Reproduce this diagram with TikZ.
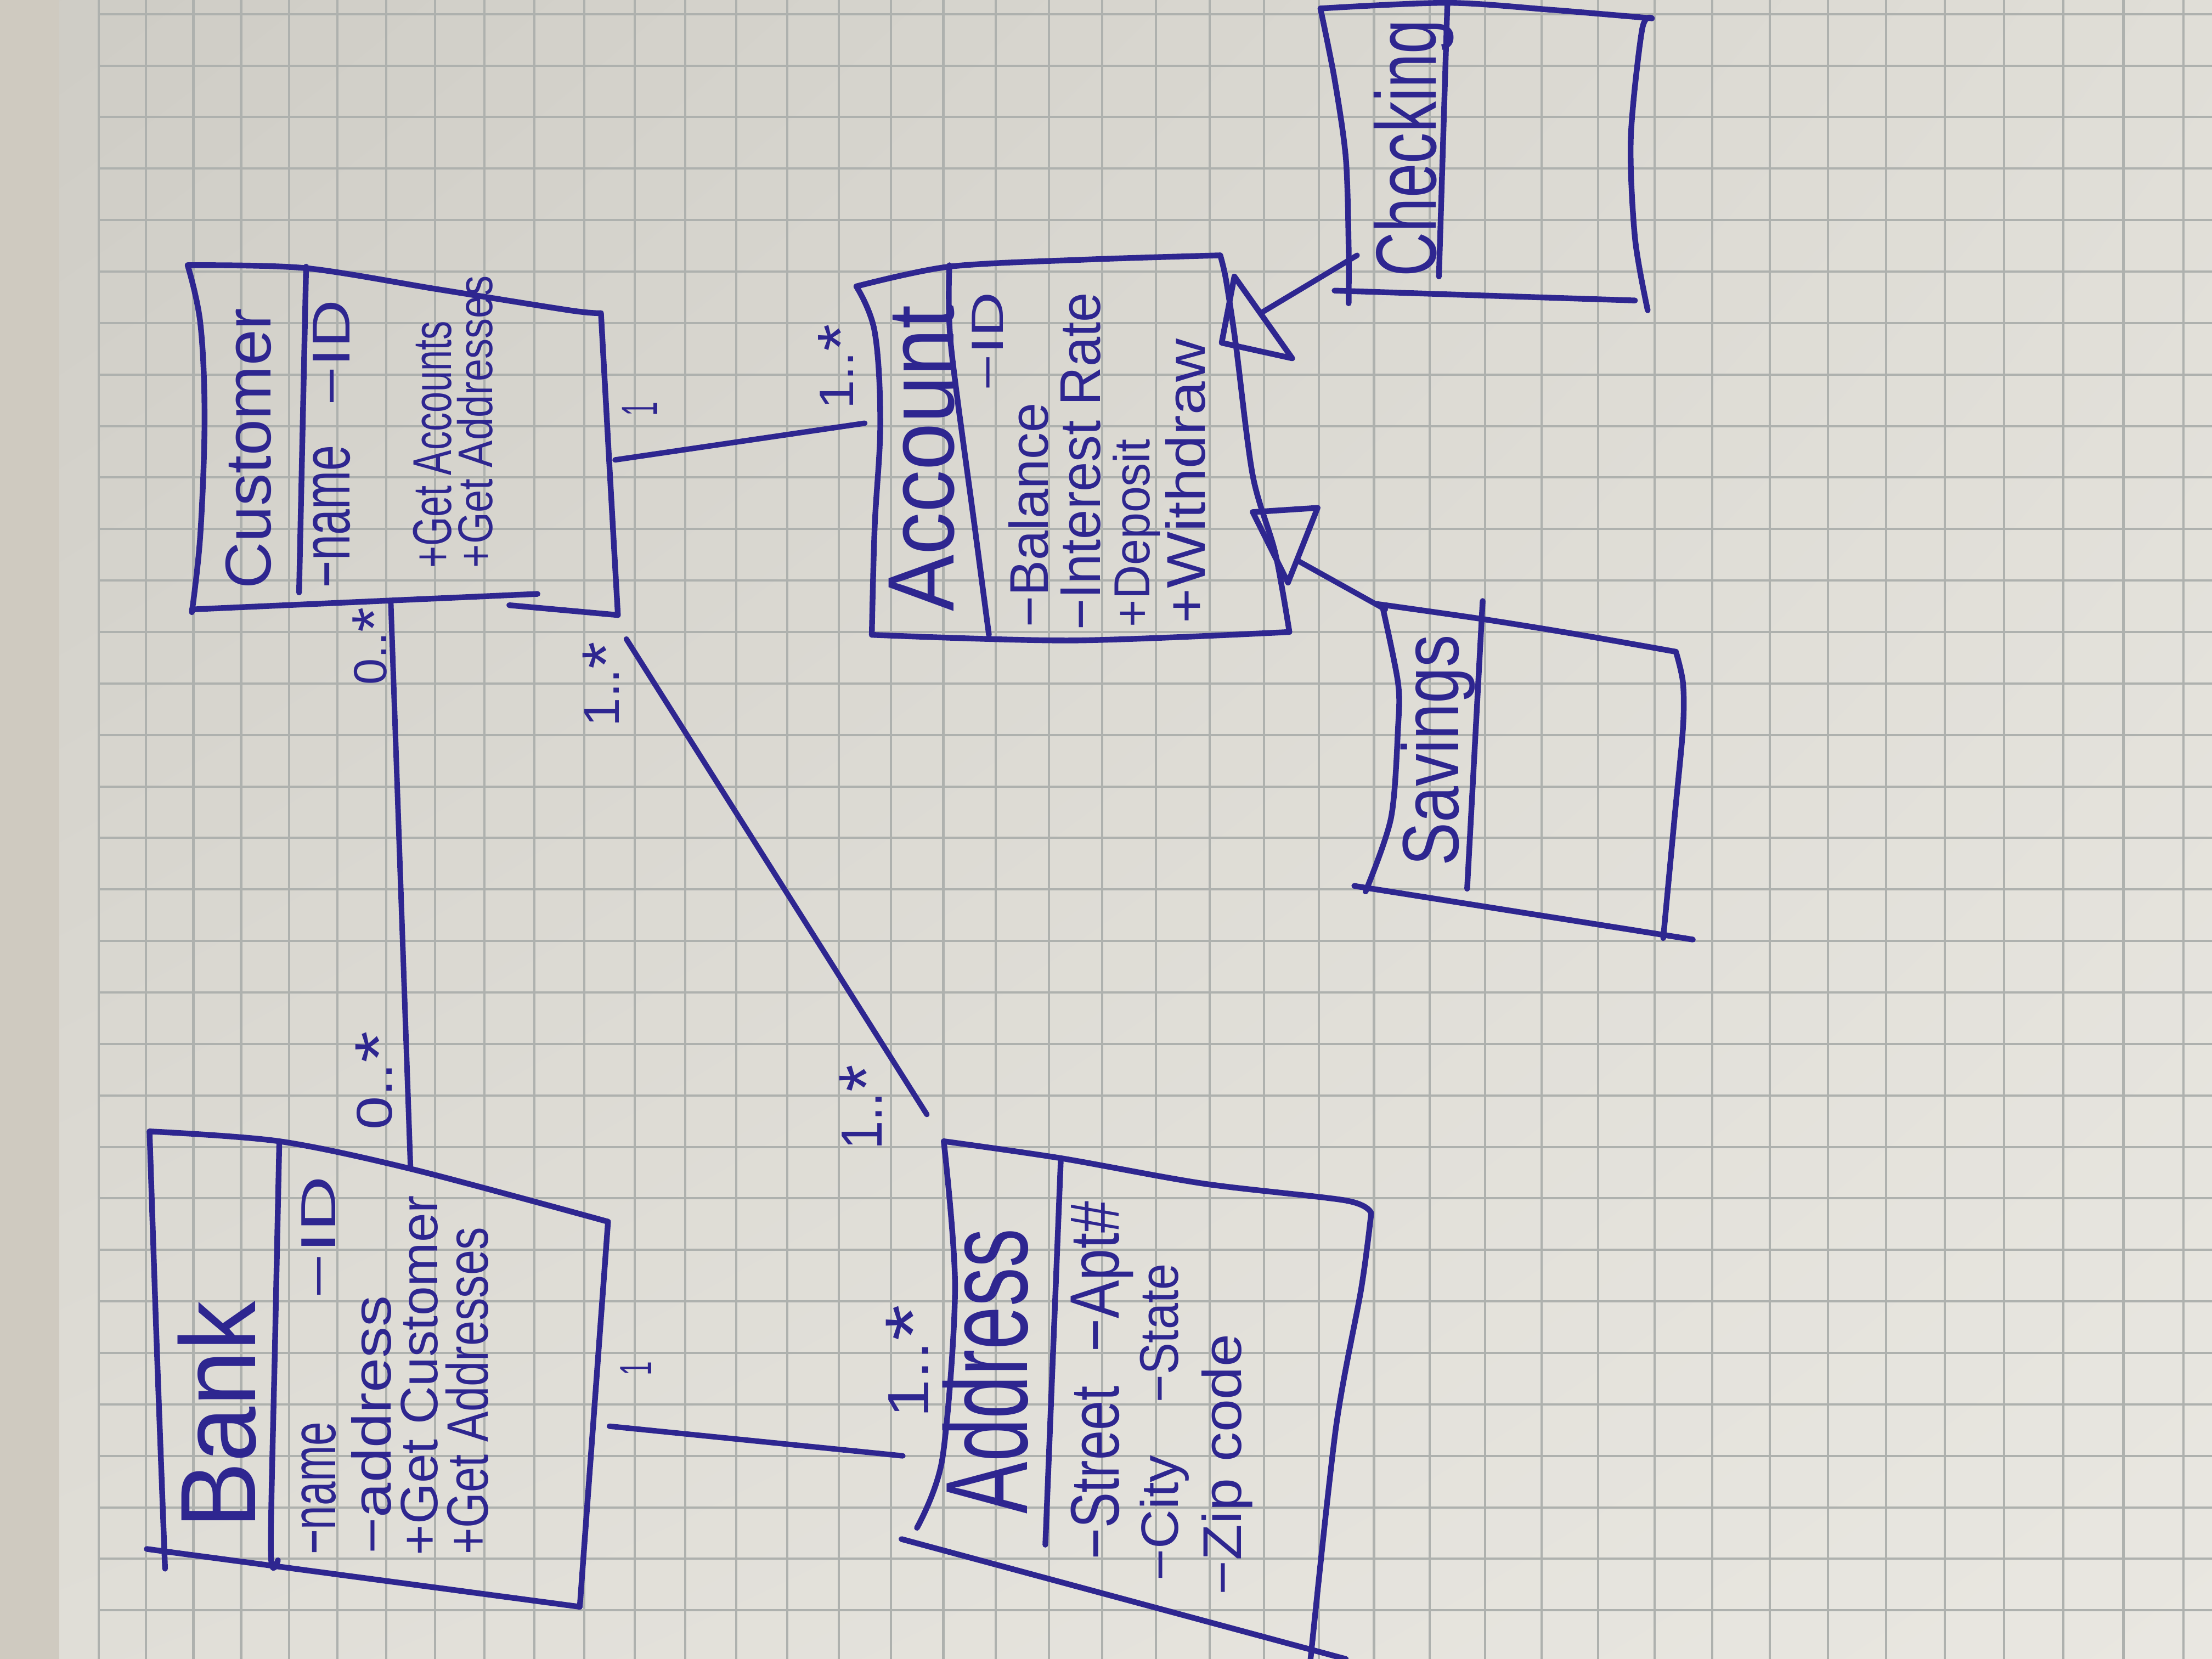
\documentclass[tikz,border=0pt]{standalone}
\usepackage{fontspec}
\setmainfont{Liberation Sans}
\usetikzlibrary{calc,shadings}
\definecolor{ink}{RGB}{46,38,144}
\definecolor{paper}{RGB}{224,222,215}
\definecolor{paperdark}{RGB}{206,204,197}
\definecolor{paperlight}{RGB}{233,231,225}
\definecolor{edge}{RGB}{207,202,192}
\definecolor{gridline}{RGB}{174,177,174}
% text squeezed into a given width and height (cm)
\newcommand{\hw}[3]{\resizebox{#1cm}{#2cm}{#3}}
% a large, centred asterisk for multiplicities
\newcommand{\many}{\raisebox{-0.2em}{\scalebox{1.35}{*}}}
\tikzset{
  pen/.style={draw=ink, line width=1.15pt, line cap=round, line join=round},
  wire/.style={draw=ink, line width=1.1pt, line cap=round},
  txt/.style={rotate=90, anchor=base, inner sep=0pt, outer sep=0pt, text=ink},
  ruling/.style={draw=gridline, line width=0.45pt},
}
\begin{document}
\begin{tikzpicture}[x=0.01cm, y=-0.01cm]
\useasboundingbox (0,0) rectangle (1568,1176);

% squared paper
\begin{scope}
\clip (0,0) rectangle (1568,1176);
\shade[upper left=paperdark, upper right=paper, lower left=paper, lower right=paperlight] (0,0) rectangle (1568,1176);
\fill[edge] (0,0) rectangle (42,1176);
\foreach \k in {0,...,40} {
  \pgfmathsetmacro\gx{5147*1.0065^\k-5077}
  \draw[ruling] (\gx,0) -- (\gx,1176);
}
\foreach \k in {0,...,32} {
  \pgfmathsetmacro\gy{10+36.5*\k}
  \draw[ruling] (70,\gy) -- (1568,\gy);
}
\end{scope}

% ---------- Customer ----------
\draw[pen] plot[smooth, tension=0.6] coordinates {(133,188) (142,229) (145,296) (142,379) (136,434)};
\draw[pen] plot[smooth, tension=0.5] coordinates {(133,188) (216,190) (310,205) (404,220) (426,222)};
\draw[pen] plot[smooth, tension=0.5] coordinates {(426,222) (432,330) (438,436)};
\draw[pen] (136,432) -- (381,421);
\draw[pen] (361,429) -- (438,436);
\draw[pen] (217,189) -- (212,420);
\node[txt] (cusName) at (192,318) {\hw{1.99}{0.32}{Customer}};
\node[txt] (cusA1) at (248,366) {\hw{1.01}{0.26}{−name}};
\node[txt] (cusA2) at (248,250) {\hw{0.75}{0.26}{−ID}};
\node[txt] (cusM1) at (320,315) {\hw{1.75}{0.27}{+Get Accounts}};
\node[txt] (cusM2) at (349,299) {\hw{2.07}{0.25}{+Get Addresses}};

% ---------- Account ----------
\draw[pen] plot[smooth, tension=0.6] coordinates {(607,203) (620,235) (624,300) (620,374) (618,450)};
\draw[pen] plot[smooth, tension=0.5] coordinates {(607,203) (673,189) (770,184) (865,181)};
\draw[pen] plot[smooth, tension=0.5] coordinates {(865,181) (869,198) (876,244) (888,337) (904,392) (914,448)};
\draw[pen] plot[smooth, tension=0.5] coordinates {(618,450) (760,454) (914,448)};
\draw[pen] plot[smooth, tension=0.5] coordinates {(673,188) (674,244) (691,374) (701,450)};
\node[txt] (accName) at (676,325) {\hw{2.17}{0.46}{Account}};
\node[txt] (accA1) at (711,242) {\hw{0.70}{0.22}{−ID}};
\node[txt] (accA2) at (743,365) {\hw{1.59}{0.28}{−Balance}};
\node[txt] (accA3) at (780,327) {\hw{2.39}{0.28}{−Interest Rate}};
\node[txt] (accM1) at (815,378) {\hw{1.33}{0.26}{+Deposit}};
\node[txt] (accM2) at (854,341) {\hw{2.02}{0.28}{+Withdraw}};

% ---------- Checking ----------
\draw[pen] plot[smooth, tension=0.5] coordinates {(936,6) (946,56) (954,112) (956,175) (956,215)};
\draw[pen] plot[smooth, tension=0.5] coordinates {(936,6) (1026,2) (1100,7) (1171,13)};
\draw[pen] plot[smooth, tension=0.5] coordinates {(1171,13) (1164,21) (1156,98) (1159,169) (1168,220)};
\draw[pen] (946,206) -- (1159,213);
\draw[pen] (1026,2) -- (1020,196);
\node[txt] (chkName) at (1018,105) {\hw{1.82}{0.44}{Checking}};

% ---------- Savings ----------
\draw[pen] plot[smooth, tension=0.5] coordinates {(980,430) (991,484) (991,516) (986,580) (968,632)};
\draw[pen] plot[smooth, tension=0.5] coordinates {(975,428) (1052,439) (1120,450) (1188,462)};
\draw[pen] plot[smooth, tension=0.5] coordinates {(1188,462) (1193,484) (1193,516) (1187,580) (1179,665)};
\draw[pen] (960,628) -- (1200,666);
\draw[pen] (1051,426) -- (1040,630);
\node[txt] (savName) at (1034,532) {\hw{1.64}{0.41}{Savings}};

% ---------- Bank ----------
\draw[pen] plot[smooth, tension=0.5] coordinates {(106,802) (111,951) (117,1112)};
\draw[pen] plot[smooth, tension=0.5] coordinates {(106,802) (198,809) (293,829) (431,866)};
\draw[pen] (431,866) -- (411,1139);
\draw[pen] (104,1098) -- (411,1139);
\draw[pen] plot[smooth, tension=0.5] coordinates {(198,809) (195,950) (192,1100) (197,1106)};
\node[txt] (bankName) at (181,1003) {\hw{1.61}{0.55}{Bank}};
\node[txt] (bankA1) at (238,1055) {\hw{0.94}{0.24}{−name}};
\node[txt] (bankA2) at (238,877) {\hw{0.87}{0.24}{−ID}};
\node[txt] (bankA3) at (277,1010) {\hw{1.83}{0.28}{−address}};
\node[txt] (bankM1) at (310,975) {\hw{2.55}{0.26}{+Get Customer}};
\node[txt] (bankM2) at (346,986) {\hw{2.32}{0.30}{+Get Addresses}};

% ---------- Address ----------
\draw[pen] plot[smooth, tension=0.5] coordinates {(669,809) (677,913) (668,1034) (650,1083)};
\draw[pen] plot[smooth, tension=0.5] coordinates {(669,809) (752,821) (853,839) (954,851) (972,860)};
\draw[pen] plot[smooth, tension=0.5] coordinates {(972,860) (965,913) (947,1012) (929,1176)};
\draw[pen] (639,1091) -- (954,1176);
\draw[pen] (752,821) -- (741,1095);
\node[txt] (addrName) at (728,972) {\hw{2.02}{0.60}{Address}};
\node[txt] (addrA1) at (793,1044) {\hw{1.23}{0.34}{−Street}};
\node[txt] (addrA2) at (793,905) {\hw{1.07}{0.34}{−Apt\#}};
\node[txt] (addrA3) at (835,1076) {\hw{0.89}{0.27}{−City}};
\node[txt] (addrA4) at (835,945) {\hw{0.98}{0.27}{−State}};
\node[txt] (addrA5) at (880,1038) {\hw{1.85}{0.28}{−Zip code}};

% ---------- connector ends ----------
\coordinate (cusBot) at (277,426);
\coordinate (bankTop) at (291,828);
\coordinate (cusCorner) at (444,453);
\coordinate (addrCorner) at (657,790);
\coordinate (cusRight) at (436,326);
\coordinate (accLeft) at (613,300);
\coordinate (bankRight) at (432,1011);
\coordinate (addrLeft) at (640,1032);
\coordinate (chkFoot) at (962,181);
\coordinate (savCorner) at (982,432);
\coordinate (tA1) at (875,196);
\coordinate (tA2) at (866,243);
\coordinate (tA3) at (916,254);
\coordinate (tB1) at (888,363);
\coordinate (tB2) at (934,360);
\coordinate (tB3) at (913,413);

% associations
\draw[wire] (cusBot) -- (bankTop);
\draw[wire] (cusCorner) -- (addrCorner);
\draw[wire] (cusRight) -- (accLeft);
\draw[wire] (bankRight) -- (addrLeft);

% generalisations with hollow triangles
\draw[pen] (tA1) -- (tA2) -- (tA3) -- cycle;
\draw[pen] (tB1) -- (tB2) -- (tB3) -- cycle;
\draw[wire] (chkFoot) -- ($(tA1)!0.45!(tA3)$);
\draw[wire] (savCorner) -- ($(tB2)!0.7!(tB3)$);

% multiplicities
\node[txt] (mCA1) at (466,290) {\hw{0.10}{0.25}{1}};
\node[txt] (mCA2) at (605,260) {\hw{0.60}{0.25}{1..\many}};
\node[txt] (mCB1) at (274,458) {\hw{0.55}{0.24}{0..\many}};
\node[txt] (mCB2) at (278,766) {\hw{0.70}{0.26}{0..\many}};
\node[txt] (mCD1) at (439,485) {\hw{0.60}{0.26}{1..\many}};
\node[txt] (mCD2) at (625,785) {\hw{0.60}{0.30}{1..\many}};
\node[txt] (mBD1) at (462,970) {\hw{0.10}{0.22}{1}};
\node[txt] (mBD2) at (658,965) {\hw{0.80}{0.30}{1..\many}};

\end{tikzpicture}
\end{document}
